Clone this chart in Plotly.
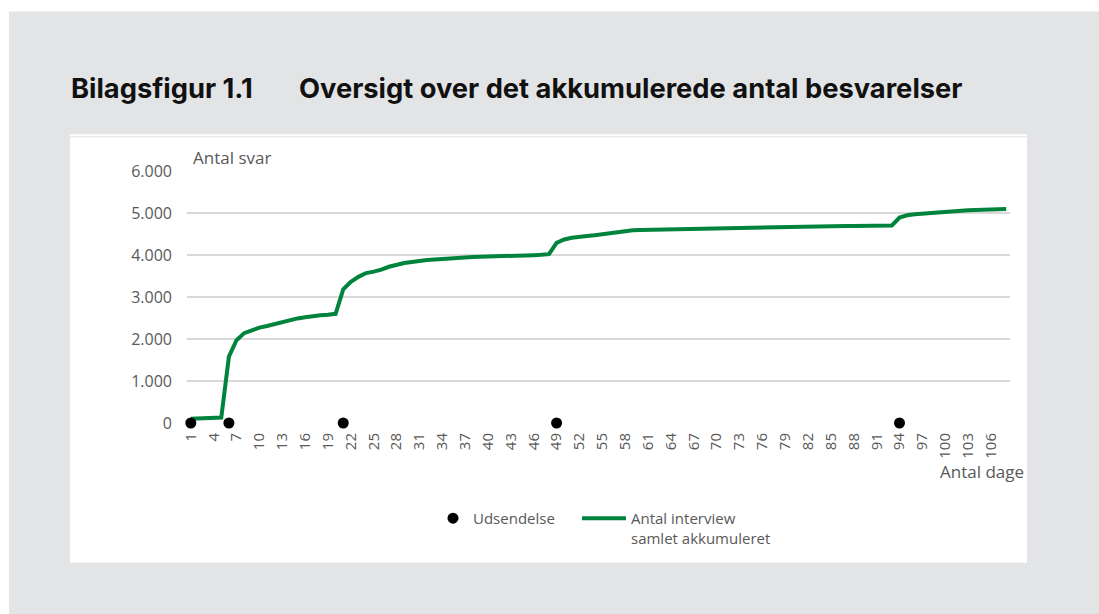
import plotly.graph_objects as go

# ---- data ----
days = list(range(1, 109))
antal_interview = [
    100, 110, 120, 125, 130, 1580, 1970, 2140, 2210, 2270,
    2310, 2360, 2400, 2450, 2490, 2520, 2550, 2565, 2580, 2600,
    3180, 3360, 3480, 3570, 3605, 3650, 3720, 3775, 3810, 3835,
    3865, 3880, 3890, 3905, 3925, 3940, 3950, 3955, 3960, 3962,
    3968, 3972, 3980, 3985, 3990, 3997, 4005, 4020, 4290, 4370,
    4410, 4440, 4450, 4470, 4495, 4520, 4550, 4580, 4590, 4598,
    4602, 4606, 4612, 4620, 4625, 4630, 4635, 4640, 4643, 4647,
    4650, 4652, 4655, 4658, 4660, 4662, 4664, 4666, 4668, 4670,
    4673, 4676, 4679, 4682, 4685, 4688, 4690, 4692, 4695, 4698,
    4700, 4702, 4705, 4890, 4945, 4970, 4985, 5000, 5012, 5035,
    5050, 5058, 5065, 5070, 5075, 5080, 5088, 5095,
]
udsendelse_days = [1, 6, 21, 49, 94]
udsendelse_values = [0, 0, 0, 0, 0]
x_tickvals = list(range(1, 107, 3))
y_tickvals = [0, 1000, 2000, 3000, 4000, 5000, 6000]

title_label = "Bilagsfigur 1.1"
title_text = "Oversigt over det akkumulerede antal besvarelser"
y_title = "Antal svar"
x_title = "Antal dage"
name_dots = "Udsendelse"
name_line = "Antal interview<br>samlet akkumuleret"

# ---- geometry (screen pixels; body margin removed below) ----
SW, SH = 1099, 614
W, H = SW, SH
L, R, T, B = 187, 1010, 170.7, 423
PW, PH = R - L, B - T


def px(x):
    return (x - L) / PW


def py(y):
    return (B - y) / PH


GREEN = "#00843d"
GRID = "#d9d9d9"
TXT = "#595959"
BG = "#e3e4e6"
FONT = "Open Sans"

fig = go.Figure()
fig.add_trace(go.Scatter(
    x=days, y=antal_interview, mode="lines", name=name_line,
    line=dict(color=GREEN, width=4), legend="legend2",
))
fig.add_trace(go.Scatter(
    x=udsendelse_days, y=udsendelse_values, mode="markers", name=name_dots,
    marker=dict(color="black", size=11), legend="legend", cliponaxis=False,
))

shapes = [
    dict(type="rect", xref="paper", yref="paper", layer="below",
         x0=px(9), x1=px(SW + 20), y0=py(11), y1=py(SH + 20),
         fillcolor=BG, line=dict(width=0)),
    dict(type="rect", xref="paper", yref="paper", layer="below",
         x0=px(70), x1=px(1027), y0=py(134), y1=py(563),
         fillcolor="white", line=dict(width=0)),
    dict(type="line", xref="paper", yref="paper", layer="below",
         x0=px(70), x1=px(1027), y0=py(136.5), y1=py(136.5),
         line=dict(color="#ececec", width=1.5)),
]

annotations = [
    dict(text=title_label, xref="paper", yref="paper", x=px(69), y=py(88),
         xanchor="left", yanchor="middle", showarrow=False,
         font=dict(family="Inter", size=27.3, color="#111111", weight="bold")),
    dict(text=title_text, xref="paper", yref="paper", x=px(297), y=py(88),
         xanchor="left", yanchor="middle", showarrow=False,
         font=dict(family="Inter", size=27.3, color="#111111", weight="bold")),
    dict(text=y_title, xref="paper", yref="paper", x=px(191), y=py(157),
         xanchor="left", yanchor="middle", showarrow=False,
         font=dict(family=FONT, size=17, color=TXT)),
    dict(text=x_title, xref="paper", yref="paper", x=px(1026), y=py(472),
         xanchor="right", yanchor="middle", showarrow=False,
         font=dict(family=FONT, size=17, color=TXT)),
]

fig.update_layout(
    width=W, height=H,
    margin=dict(l=L, r=W - R, t=T, b=H - B, autoexpand=False),
    paper_bgcolor="white", plot_bgcolor="rgba(0,0,0,0)",
    separators=",.",
    shapes=shapes, annotations=annotations,
    font=dict(family=FONT, color=TXT),
    showlegend=True,
    legend=dict(x=px(433), y=py(502), xanchor="left", yanchor="top",
                orientation="h", font=dict(family=FONT, size=15, color=TXT),
                bgcolor="rgba(0,0,0,0)", borderwidth=0),
    legend2=dict(x=px(577), y=py(502), xanchor="left", yanchor="top",
                 orientation="h", valign="top", itemwidth=44,
                 font=dict(family=FONT, size=15, color=TXT),
                 bgcolor="rgba(0,0,0,0)", borderwidth=0),
)
fig.update_xaxes(
    range=[0.5, 108.5], tickvals=x_tickvals, tickangle=-90,
    showgrid=False, zeroline=False, showline=False, ticks="",
    tickfont=dict(family=FONT, size=15, color=TXT), ticklabelstandoff=6,
)
fig.update_yaxes(
    range=[0, 6000], tickvals=y_tickvals, tickformat=",d",
    showgrid=True, gridcolor=GRID, gridwidth=1.5, zeroline=False,
    showline=False, ticks="",
    tickfont=dict(family=FONT, size=16, color=TXT), ticklabelstandoff=14,
)

fig.write_html(
    "out.html",
    config=dict(displayModeBar=False),
    post_script="document.body.style.margin='0';document.body.style.overflow='hidden';",
)
